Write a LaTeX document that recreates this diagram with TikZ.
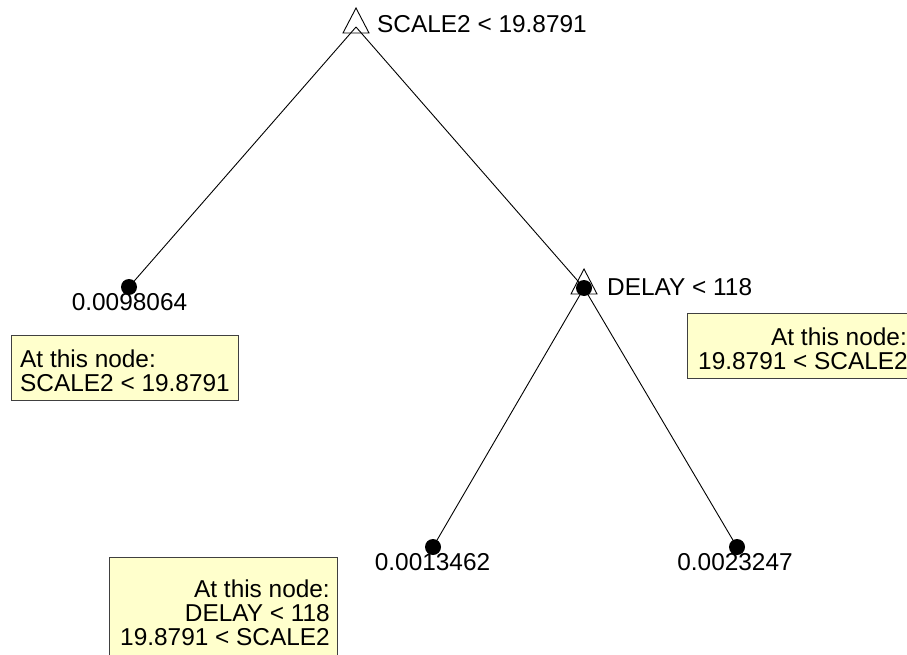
\documentclass[tikz,border=0pt]{standalone}
\usepackage{fontspec}
\setmainfont{Liberation Sans}
\definecolor{boxfill}{HTML}{FFFFCC}
\definecolor{boxline}{HTML}{404040}
\begin{document}
\begin{tikzpicture}[x=1pt,y=-1pt,
  font=\fontsize{24.4}{24}\selectfont,
  edge/.style={draw=black, line width=0.9pt},
  tri/.style={draw=black, line width=0.9pt},
  dot/.style={circle, fill=black, minimum size=16pt, inner sep=0pt},
  infobox/.style={draw=boxline, fill=boxfill, line width=0.9pt, rectangle, inner sep=0pt, anchor=north west},
  lbl/.style={inner sep=0pt}]
\useasboundingbox (0,0) rectangle (907,655);
\clip (0,0) rectangle (907,655);
\fill[white] (0,0) rectangle (907,655);

% tree points
\coordinate (root) at (356,27);
\coordinate (delay) at (584,288);
\coordinate (leafA) at (129,287);
\coordinate (leafB) at (433,547);
\coordinate (leafC) at (737,547);

% connectors
\draw[edge] (root) -- (leafA);
\draw[edge] (root) -- (delay);
\draw[edge] (delay) -- (leafB);
\draw[edge] (delay) -- (leafC);

% split triangles
\draw[tri] (root) ++(0,-19) -- ++(13,25) -- ++(-26,0) -- cycle;
\draw[tri] (delay) ++(0,-19) -- ++(13,25) -- ++(-26,0) -- cycle;

% dots
\node[dot] (dDelay) at (delay) {};
\node[dot] (dA) at (leafA) {};
\node[dot] (dB) at (leafB) {};
\node[dot] (dC) at (leafC) {};

% labels
\node[lbl, anchor=base west] (tRoot) at (377,33) {SCALE2 < 19.8791};
\node[lbl, anchor=base west] (tDelay) at (607,295) {DELAY < 118};
\node[lbl, anchor=base] (tA) at (129.5,310) {0.0098064};
\node[lbl, anchor=base] (tB) at (432.5,570) {0.0013462};
\node[lbl, anchor=base] (tC) at (735,570) {0.0023247};

% info boxes
\node[infobox, minimum width=227pt, minimum height=65pt] (boxA) at (11,335) {};
\node[lbl, anchor=base west] (boxA1) at (20,367) {At this node:};
\node[lbl, anchor=base west] (boxA2) at (20,391) {SCALE2 < 19.8791};

\node[infobox, minimum width=233pt, minimum height=65pt] (boxD) at (687,313) {};
\node[lbl, anchor=base east] (boxD1) at (907,345) {At this node:};
\node[lbl, anchor=base east] (boxD2) at (908,369) {19.8791 < SCALE2};

\node[infobox, minimum width=228pt, minimum height=110pt] (boxB) at (109,557) {};
\node[lbl, anchor=base east] (boxB1) at (330,597) {At this node:};
\node[lbl, anchor=base east] (boxB2) at (330,621) {DELAY < 118};
\node[lbl, anchor=base east] (boxB3) at (330,645) {19.8791 < SCALE2};
\end{tikzpicture}
\end{document}
